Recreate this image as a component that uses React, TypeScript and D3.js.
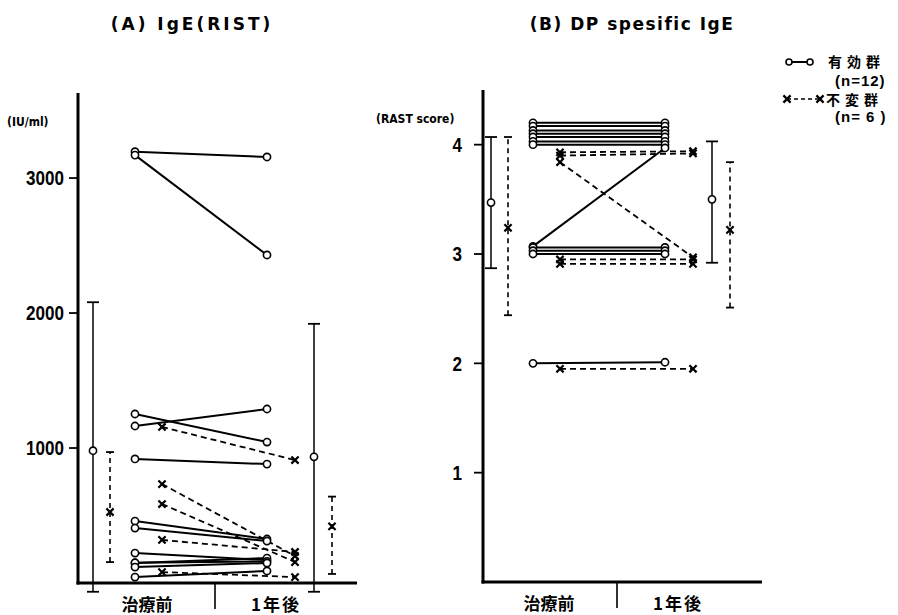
import * as d3 from "d3"

const periods = ["治療前", "1年後"]

// (A) IgE(RIST), IU/ml
const igeEffBefore = [3195, 3170, 1252, 1163, 919, 459, 407, 222, 148, 150, 118, 44]
const igeEffAfter = [3156, 2430, 1044, 1289, 881, 326, 311, 170, 185, 160, 148, 89]
const igeUnchBefore = [1156, 733, 585, 319, 81]
const igeUnchAfter = [911, 200, 155, 230, 44]
// [mean, lower, upper] for before / after
const igeEffStats = [[980, -65, 2080], [935, -65, 1920]]
const igeUnchStats = [[526, 155, 970], [420, 67, 640]]
const igeTicks = [1000, 2000, 3000]

// (B) DP spesific IgE, RAST score
const rastEffBefore = [4.2, 4.17, 4.13, 4.1, 4.07, 4.03, 4.0, 3.07, 3.06, 3.03, 3.0, 2.0]
const rastEffAfter = [4.2, 4.17, 4.13, 4.1, 4.07, 4.03, 4.0, 3.97, 3.06, 3.03, 3.0, 2.01]
const rastUnchBefore = [3.93, 3.9, 3.84, 2.95, 2.91, 1.95]
const rastUnchAfter = [3.94, 3.92, 2.97, 2.95, 2.91, 1.95]
const rastEffStats = [[3.47, 2.87, 4.07], [3.5, 2.92, 4.03]]
const rastUnchStats = [[3.24, 2.44, 4.07], [3.22, 2.51, 3.84]]
const rastTicks = [1, 2, 3, 4]

const NUM_FONT = "'Liberation Sans', Arial, sans-serif"
const SMALL_FONT = "'DejaVu Sans Condensed', sans-serif"
const JP_FONT = "'Noto Sans CJK JP', sans-serif"
const DASH = "6,4"

function Circle({ x, y, r = 3.6 }: { x: number; y: number; r?: number }) {
  return <circle cx={x} cy={y} r={r} fill="#fff" stroke="#000" strokeWidth={1.6} />
}

function Cross({ x, y }: { x: number; y: number }) {
  const s = 3.6
  return (
    <path
      d={`M${x - s},${y - s}L${x + s},${y + s}M${x - s},${y + s}L${x + s},${y - s}`}
      stroke="#000"
      strokeWidth={2.2}
    />
  )
}

function ErrorBar({ x, stat, y, dashed }: { x: number; stat: number[]; y: d3.ScaleLinear<number, number>; dashed: boolean }) {
  const [m, lo, hi] = stat
  const w = dashed ? 4 : 6
  return (
    <g stroke="#000">
      <line x1={x} x2={x} y1={y(lo)} y2={y(hi)} strokeWidth={dashed ? 1.6 : 1.5} strokeDasharray={dashed ? "5,4" : undefined} />
      <line x1={x - w} x2={x + w} y1={y(hi)} y2={y(hi)} strokeWidth={1.8} />
      <line x1={x - w} x2={x + w} y1={y(lo)} y2={y(lo)} strokeWidth={1.8} />
      {dashed ? <Cross x={x} y={y(m)} /> : <Circle x={x} y={y(m)} />}
    </g>
  )
}

interface PanelProps {
  title: string
  titleX: number
  titleSpacing: number
  unit: string
  unitX: number
  unitY: number
  y: d3.ScaleLinear<number, number>
  x: d3.ScaleLinear<number, number>
  axisX: number
  axisRight: number
  sep: number
  ticks: number[]
  tickSize: number
  effBefore: number[]
  effAfter: number[]
  unchBefore: number[]
  unchAfter: number[]
  effStats: number[][]
  unchStats: number[][]
}

function Panel(p: PanelProps) {
  const { x, y } = p
  const base = y(0)
  const top = y.range()[1]
  const unchOff = 27
  const errEff = [x(0) - 42, x(1) + 47]
  const errUnch = [x(0) - 25, x(1) + 65]
  const line = d3.line<[number, number]>().x(d => d[0]).y(d => d[1])
  return (
    <g>
      <text x={p.titleX} y={30} textAnchor="middle" fontFamily="'DejaVu Sans', sans-serif" fontWeight="bold" fontSize={17} letterSpacing={p.titleSpacing}>
        {p.title}
      </text>
      <text x={p.unitX} y={p.unitY} fontFamily={SMALL_FONT} fontWeight="bold" fontSize={12}>
        {p.unit}
      </text>
      {/* axes */}
      <line x1={p.axisX} x2={p.axisX} y1={top} y2={base + 1.5} stroke="#000" strokeWidth={3} />
      <line x1={p.axisX - 1.5} x2={p.axisRight} y1={base} y2={base} stroke="#000" strokeWidth={3} />
      <line x1={p.sep} x2={p.sep} y1={base} y2={base + 26} stroke="#000" strokeWidth={1.6} />
      {p.ticks.map(t => {
        const label = String(t)
        return (
          <g key={t}>
            <line x1={p.axisX - 9} x2={p.axisX} y1={y(t)} y2={y(t)} stroke="#000" strokeWidth={1.8} />
            <text
              x={p.axisX - p.tickSize}
              y={y(t)}
              dy="0.36em"
              textAnchor="end"
              fontFamily={NUM_FONT}
              fontWeight="bold"
              fontSize={20}
              textLength={label.length * 9.5}
              lengthAdjust="spacingAndGlyphs"
            >
              {label}
            </text>
          </g>
        )
      })}
      <text x={p.sep - 68} y={base + 28} textAnchor="middle" fontFamily={JP_FONT} fontWeight="bold" fontSize={17}>
        {periods[0]}
      </text>
      <text x={p.sep + 61} y={base + 28} textAnchor="middle" fontFamily={JP_FONT} fontWeight="bold" fontSize={17} letterSpacing={2}>
        {periods[1]}
      </text>
      {/* error bars */}
      {[0, 1].map(i => (
        <g key={i}>
          <ErrorBar x={errEff[i]} stat={p.effStats[i]} y={y} dashed={false} />
          <ErrorBar x={errUnch[i]} stat={p.unchStats[i]} y={y} dashed={true} />
        </g>
      ))}
      {/* individual lines */}
      {p.unchBefore.map((v, i) => {
        const a: [number, number] = [x(0) + unchOff, y(v)]
        const b: [number, number] = [x(1) + unchOff + 1, y(p.unchAfter[i])]
        return (
          <g key={"u" + i}>
            <path d={line([a, b]) || ""} fill="none" stroke="#000" strokeWidth={1.8} strokeDasharray={DASH} />
            <Cross x={a[0]} y={a[1]} />
            <Cross x={b[0]} y={b[1]} />
          </g>
        )
      })}
      {p.effBefore.map((v, i) => {
        const a: [number, number] = [x(0), y(v)]
        const b: [number, number] = [x(1), y(p.effAfter[i])]
        return (
          <g key={"e" + i}>
            <path d={line([a, b]) || ""} fill="none" stroke="#000" strokeWidth={2} />
            <Circle x={a[0]} y={a[1]} />
            <Circle x={b[0]} y={b[1]} />
          </g>
        )
      })}
    </g>
  )
}

export default function App() {
  const yA = d3.scaleLinear().domain([0, 3630]).range([583, 93])
  const xA = d3.scaleLinear().domain([0, 1]).range([135, 267])
  const yB = d3.scaleLinear().domain([0, 4.5]).range([582, 90])
  const xB = d3.scaleLinear().domain([0, 1]).range([533, 665])

  return (
    <svg width={898} height={615} style={{ position: "absolute", left: 0, top: 0, background: "#fff" }}>
      <Panel
        title="(A) IgE(RIST)"
        titleX={192}
        titleSpacing={3}
        unit="(IU/ml)"
        unitX={7}
        unitY={126}
        y={yA}
        x={xA}
        axisX={78}
        axisRight={357}
        sep={215}
        ticks={igeTicks}
        tickSize={14}
        effBefore={igeEffBefore}
        effAfter={igeEffAfter}
        unchBefore={igeUnchBefore}
        unchAfter={igeUnchAfter}
        effStats={igeEffStats}
        unchStats={igeUnchStats}
      />
      <Panel
        title="(B) DP spesific IgE"
        titleX={632}
        titleSpacing={1.5}
        unit="(RAST score)"
        unitX={376}
        unitY={123}
        y={yB}
        x={xB}
        axisX={483}
        axisRight={762}
        sep={617}
        ticks={rastTicks}
        tickSize={21}
        effBefore={rastEffBefore}
        effAfter={rastEffAfter}
        unchBefore={rastUnchBefore}
        unchAfter={rastUnchAfter}
        effStats={rastEffStats}
        unchStats={rastUnchStats}
      />
      {/* legend */}
      <g>
        <line x1={789} x2={810} y1={62} y2={62} stroke="#000" strokeWidth={2} />
        <Circle x={789} y={62} r={3} />
        <Circle x={810} y={62} r={3} />
        <text x={828} y={67} fontFamily={JP_FONT} fontWeight="bold" fontSize={14} letterSpacing={5}>
          有効群
        </text>
        <text x={835} y={86} fontFamily={NUM_FONT} fontWeight="bold" fontSize={15} letterSpacing={1}>
          (n=12)
        </text>
        <line x1={787} x2={820} y1={99} y2={99} stroke="#000" strokeWidth={1.6} strokeDasharray="4,3" />
        <Cross x={787} y={99} />
        <Cross x={820} y={99} />
        <text x={826} y={105} fontFamily={JP_FONT} fontWeight="bold" fontSize={14} letterSpacing={5}>
          不変群
        </text>
        <text x={835} y={122} fontFamily={NUM_FONT} fontWeight="bold" fontSize={15} letterSpacing={1} xmlSpace="preserve">
          (n= 6 )
        </text>
      </g>
    </svg>
  )
}
